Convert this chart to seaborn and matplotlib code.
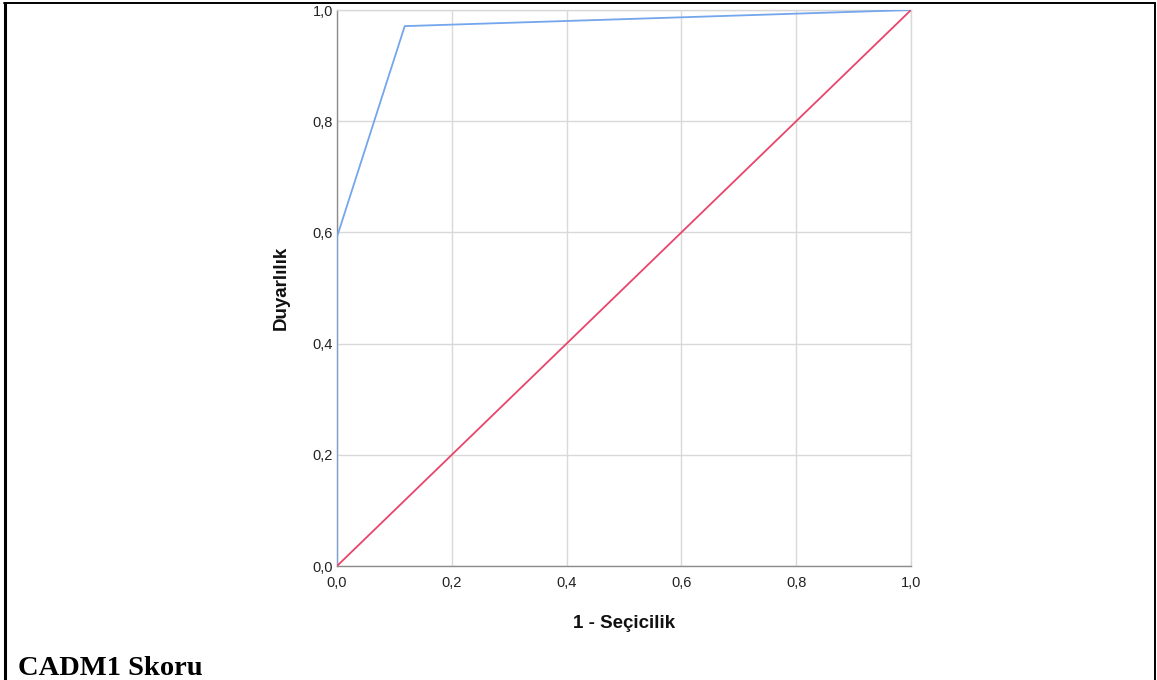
import matplotlib
matplotlib.use("Agg")
import matplotlib.pyplot as plt
import seaborn as sns
import pandas as pd
from matplotlib.lines import Line2D

# ROC curve data
fpr = [0.0, 0.0, 0.118, 1.0]
tpr = [0.0, 0.592, 0.971, 1.0]
ref_x = [0.0, 1.0]
ref_y = [0.0, 1.0]
ticks = [0.0, 0.2, 0.4, 0.6, 0.8, 1.0]
tick_labels = ["0,0", "0,2", "0,4", "0,6", "0,8", "1,0"]

sns.set_theme(style="white")
plt.rcParams['font.family'] = ['Liberation Sans', 'DejaVu Sans']
plt.rcParams['text.color'] = 'black'
plt.rcParams['axes.labelcolor'] = 'black'

fig = plt.figure(figsize=(11.57, 6.8), dpi=100)
ax = fig.add_axes([337/1157, 1-566/680, (911-337)/1157, (566-10)/680])

roc = pd.DataFrame({"x": fpr, "y": tpr})
ref = pd.DataFrame({"x": ref_x, "y": ref_y})
sns.lineplot(data=roc, x="x", y="y", ax=ax, color="#73a6ec", linewidth=1.3,
             sort=False, estimator=None, zorder=3)
sns.lineplot(data=ref, x="x", y="y", ax=ax, color="#e8456c", linewidth=1.3,
             sort=False, estimator=None, zorder=3)

ax.set_xlim(0, 1)
ax.set_ylim(0, 1)
ax.set_xticks(ticks)
ax.set_yticks(ticks)
ax.set_xticklabels(tick_labels)
ax.set_yticklabels(tick_labels)
ax.tick_params(axis='both', length=0, labelsize=10.5, colors="#222222")
ax.tick_params(axis='x', pad=7.5)
ax.tick_params(axis='y', pad=3)
ax.grid(True, color="#d9d9d9", linewidth=1.0)
ax.set_axisbelow(True)
for side in ["top", "right"]:
    ax.spines[side].set_color("#d9d9d9")
    ax.spines[side].set_linewidth(1.0)
for side in ["left", "bottom"]:
    ax.spines[side].set_color("#8c8c8c")
    ax.spines[side].set_linewidth(1.0)

ax.set_xlabel("1 - Seçicilik", fontsize=13.5, fontweight="bold", labelpad=18, color="#111111")
ax.set_ylabel("Duyarlılık", fontsize=13.5, fontweight="bold", labelpad=16, color="#111111")

# frame around the figure (left, top, right)
W, H = 1157, 680
fig.add_artist(Line2D([4.5/W, 4.5/W], [0, 1-3/H], color="black", linewidth=2.2, transform=fig.transFigure))
fig.add_artist(Line2D([4/W, 1155/W], [1-3/H, 1-3/H], color="black", linewidth=1.4, transform=fig.transFigure))
fig.add_artist(Line2D([1155/W, 1155/W], [0, 1-3/H], color="black", linewidth=1.4, transform=fig.transFigure))

fig.text(18/W, 1-675/H, "CADM1 Skoru", fontsize=20.5, fontweight="bold", color="black",
         family=["Liberation Serif", "DejaVu Serif"], ha="left", va="baseline")

fig.savefig("out.png", dpi=100)
